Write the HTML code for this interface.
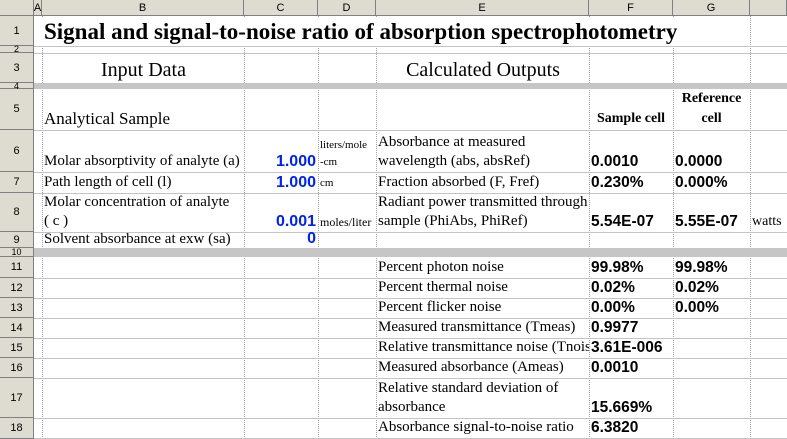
<!DOCTYPE html>
<html><head><meta charset="utf-8"><style>
*{margin:0;padding:0;box-sizing:border-box}
body{width:787px;height:439px;overflow:hidden;background:#fff;position:relative;font-family:"Liberation Serif",serif;color:#000}
.hd{position:absolute;background:#dedbd0;font-family:"Liberation Sans",sans-serif;font-size:11px;color:#000;display:flex;align-items:center;justify-content:center;border-right:1px solid #808080;border-bottom:1px solid #808080}
.vl{position:absolute;top:16px;height:423px;width:0;border-left:1px dotted #a0a0a0}
.hl{position:absolute;left:34px;width:753px;height:0;border-top:1px solid #c4c4c4}
.band{position:absolute;left:34px;width:753px;background:#c6c6c6}
.c{position:absolute;display:flex;flex-direction:column;justify-content:flex-end;padding:0 2px 1px 2px;white-space:nowrap;overflow:visible}
.s{font-size:15px;line-height:19px}
.v{font-family:"Liberation Sans",sans-serif;font-weight:bold;font-size:16px;color:#0022ee;text-align:right;line-height:18px}
.o{font-family:"Liberation Sans",sans-serif;font-weight:bold;font-size:15.5px;line-height:18px}
.u{font-size:11px;line-height:17px}
</style></head><body>
<div class="hd" style="left:0;top:0;width:34px;height:16px"></div>
<div class="hd" style="left:34px;top:0;width:8px;height:16px">A</div>
<div class="hd" style="left:42px;top:0;width:202px;height:16px">B</div>
<div class="hd" style="left:244px;top:0;width:74px;height:16px">C</div>
<div class="hd" style="left:318px;top:0;width:58px;height:16px">D</div>
<div class="hd" style="left:376px;top:0;width:213px;height:16px">E</div>
<div class="hd" style="left:589px;top:0;width:84px;height:16px">F</div>
<div class="hd" style="left:673px;top:0;width:77px;height:16px">G</div>
<div class="hd" style="left:750px;top:0;width:37px;height:16px"></div>
<div class="hd" style="left:0;top:16px;width:34px;height:30px">1</div>
<div class="hd" style="left:0;top:46px;width:34px;height:7px;font-size:9px">2</div>
<div class="hd" style="left:0;top:53px;width:34px;height:30px">3</div>
<div class="hd" style="left:0;top:83px;width:34px;height:6px;font-size:9px">4</div>
<div class="hd" style="left:0;top:89px;width:34px;height:41px">5</div>
<div class="hd" style="left:0;top:130px;width:34px;height:42px">6</div>
<div class="hd" style="left:0;top:172px;width:34px;height:21px">7</div>
<div class="hd" style="left:0;top:193px;width:34px;height:39px">8</div>
<div class="hd" style="left:0;top:232px;width:34px;height:16px">9</div>
<div class="hd" style="left:0;top:248px;width:34px;height:9px;font-size:9px">10</div>
<div class="hd" style="left:0;top:257px;width:34px;height:21px">11</div>
<div class="hd" style="left:0;top:278px;width:34px;height:20px">12</div>
<div class="hd" style="left:0;top:298px;width:34px;height:20px">13</div>
<div class="hd" style="left:0;top:318px;width:34px;height:20px">14</div>
<div class="hd" style="left:0;top:338px;width:34px;height:20px">15</div>
<div class="hd" style="left:0;top:358px;width:34px;height:20px">16</div>
<div class="hd" style="left:0;top:378px;width:34px;height:40px">17</div>
<div class="hd" style="left:0;top:418px;width:34px;height:21px">18</div>
<div class="vl" style="left:42px"></div><div class="vl" style="left:244px"></div>
<div class="vl" style="left:318px"></div><div class="vl" style="left:376px"></div>
<div class="vl" style="left:589px"></div><div class="vl" style="left:673px"></div>
<div class="vl" style="left:750px"></div>
<div class="hl" style="top:46px"></div><div class="hl" style="top:53px"></div>
<div class="hl" style="top:130px"></div><div class="hl" style="top:172px"></div>
<div class="hl" style="top:193px"></div><div class="hl" style="top:232px"></div>
<div class="hl" style="top:278px"></div><div class="hl" style="top:298px"></div>
<div class="hl" style="top:318px"></div><div class="hl" style="top:338px"></div>
<div class="hl" style="top:358px"></div><div class="hl" style="top:378px"></div>
<div class="hl" style="top:418px"></div><div class="hl" style="top:438px"></div>
<div class="band" style="top:83px;height:6px"></div>
<div class="band" style="top:248px;height:9px"></div>
<div class="c" style="left:42px;top:17px;width:708px;height:29px;font-weight:bold;font-size:23px;line-height:26px;background:#fff">Signal and signal-to-noise ratio of absorption spectrophotometry</div>
<div class="c" style="left:43px;top:54px;width:201px;height:29px;font-size:20px;line-height:24px;text-align:center;background:#fff">Input Data</div>
<div class="c" style="left:377px;top:54px;width:212px;height:29px;font-size:20px;line-height:24px;text-align:center;background:#fff">Calculated Outputs</div>
<div class="c" style="left:42px;top:89px;height:41px;font-size:17px;line-height:20px">Analytical Sample</div>
<div class="c" style="left:589px;top:89px;width:84px;height:41px;font-size:14px;font-weight:bold;line-height:20px;text-align:center">Sample cell</div>
<div class="c" style="left:673px;top:89px;width:77px;height:41px;font-size:14px;font-weight:bold;line-height:20px;text-align:center">Reference<br>cell</div>
<div class="c s" style="left:42px;top:130px;height:42px">Molar absorptivity of analyte (a)</div>
<div class="c v" style="left:244px;top:130px;width:74px;height:42px">1.000</div>
<div class="c u" style="left:318px;top:130px;height:42px">liters/mole<br>-cm</div>
<div class="c s" style="left:42px;top:172px;height:21px">Path length of cell (l)</div>
<div class="c v" style="left:244px;top:172px;width:74px;height:21px">1.000</div>
<div class="c u" style="left:318px;top:172px;height:21px">cm</div>
<div class="c s" style="left:42px;top:193px;height:39px">Molar concentration of analyte<br>( c )</div>
<div class="c v" style="left:244px;top:193px;width:74px;height:39px">0.001</div>
<div class="c u" style="left:318px;top:193px;height:39px;font-size:12px">moles/liter</div>
<div class="c s" style="left:42px;top:232px;height:16px;line-height:17px;padding-bottom:0">Solvent absorbance at exw (sa)</div>
<div class="c v" style="left:244px;top:232px;width:74px;height:16px;padding-bottom:0">0</div>
<div class="c s" style="left:376px;top:130px;height:42px">Absorbance at measured<br>wavelength (abs, absRef)</div>
<div class="c o" style="left:589px;top:130px;height:42px">0.0010</div>
<div class="c o" style="left:673px;top:130px;height:42px">0.0000</div>
<div class="c s" style="left:376px;top:172px;height:21px">Fraction absorbed (F, Fref)</div>
<div class="c o" style="left:589px;top:172px;height:21px">0.230%</div>
<div class="c o" style="left:673px;top:172px;height:21px">0.000%</div>
<div class="c s" style="left:376px;top:193px;height:39px">Radiant power transmitted through<br>sample (PhiAbs, PhiRef)</div>
<div class="c o" style="left:589px;top:193px;height:39px">5.54E-07</div>
<div class="c o" style="left:673px;top:193px;height:39px">5.55E-07</div>
<div class="c s" style="left:750px;top:193px;height:39px;font-size:14px">watts</div>
<div class="c s" style="left:376px;top:257px;height:21px">Percent photon noise</div>
<div class="c o" style="left:589px;top:257px;height:21px">99.98%</div>
<div class="c o" style="left:673px;top:257px;height:21px">99.98%</div>
<div class="c s" style="left:376px;top:278px;height:20px">Percent thermal noise</div>
<div class="c o" style="left:589px;top:278px;height:20px">0.02%</div>
<div class="c o" style="left:673px;top:278px;height:20px">0.02%</div>
<div class="c s" style="left:376px;top:298px;height:20px">Percent flicker noise</div>
<div class="c o" style="left:589px;top:298px;height:20px">0.00%</div>
<div class="c o" style="left:673px;top:298px;height:20px">0.00%</div>
<div class="c s" style="left:376px;top:318px;height:20px">Measured transmittance (Tmeas)</div>
<div class="c o" style="left:589px;top:318px;height:20px">0.9977</div>
<div class="c s" style="left:376px;top:338px;width:213px;height:20px;overflow:hidden">Relative transmittance noise (Tnoise)</div>
<div class="c o" style="left:589px;top:338px;height:20px">3.61E-006</div>
<div class="c s" style="left:376px;top:358px;height:20px">Measured absorbance (Ameas)</div>
<div class="c o" style="left:589px;top:358px;height:20px">0.0010</div>
<div class="c s" style="left:376px;top:378px;height:40px">Relative standard deviation of<br>absorbance</div>
<div class="c o" style="left:589px;top:378px;height:40px">15.669%</div>
<div class="c s" style="left:376px;top:418px;height:20px">Absorbance signal-to-noise ratio</div>
<div class="c o" style="left:589px;top:418px;height:20px">6.3820</div>
</body></html>
